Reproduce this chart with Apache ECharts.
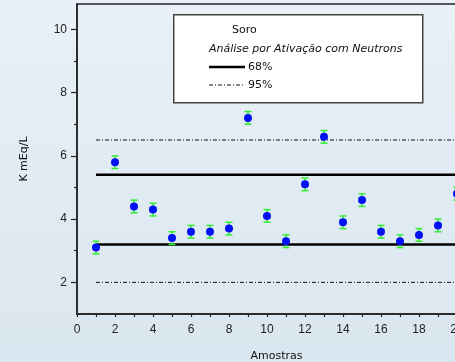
<!DOCTYPE html>
<html>
<head>
<meta charset="utf-8">
<script src="https://cdn.jsdelivr.net/npm/echarts@6/dist/echarts.min.js"></script>
<style>
html,body{margin:0;padding:0;overflow:hidden;width:455px;height:362px;background:#e2ebf3;}
#c{width:480px;height:362px;}
</style>
</head>
<body>
<div id="c"></div>
<script>
// Data
const samples = [1,2,3,4,5,6,7,8,9,10,11,12,13,14,15,16,17,18,19,20];
const values  = [3.1,5.8,4.4,4.3,3.4,3.6,3.6,3.7,7.2,4.1,3.3,5.1,6.6,3.9,4.6,3.6,3.3,3.5,3.8,4.8];
const errors  = [0.2,0.2,0.2,0.2,0.2,0.2,0.2,0.2,0.2,0.2,0.2,0.2,0.2,0.2,0.2,0.2,0.2,0.2,0.2,0.2];
const limits68 = [3.2, 5.4];
const limits95 = [2.0, 6.5];
const lineRange = [1, 21];
const xTickLabels = [0,2,4,6,8,10,12,14,16,18,20];
const yTickLabels = [2,4,6,8,10];
const yMinorTicks = [3,5,7,9];
const legendTitle = 'Soro';
const legendSubtitle = 'Análise por Ativação com Neutrons';
const legendNames = ['68%','95%'];

const chart = echarts.init(document.getElementById('c'));
const AX = '#222';
const FONT = 'DejaVu Sans';

const scatterData = samples.map((s,i)=>[s, values[i]]);
const errData = samples.map((s,i)=>[s, values[i]-errors[i], values[i]+errors[i]]);

function hline(v, name, style){
  return {
    type:'line', name:name, data: lineRange.map(x=>[x, v]),
    symbol:'none', silent:true, z:2,
    lineStyle: style, animation:false
  };
}
const solid = {color:'#000', width:2.5, type:'solid'};
const dashdot = {color:'#111', width:1, type:[4,2,1,2]};

const option = {
  animation:false,
  backgroundColor:{type:'linear',x:0,y:0,x2:0,y2:1,colorStops:[{offset:0,color:'#e9f0f7'},{offset:1,color:'#dae6ef'}]},
  grid:{left:77, top:4, right:4, bottom:48, containLabel:false, outerBoundsMode:'none', show:true, borderColor:AX, borderWidth:1.5, backgroundColor:'transparent'},
  xAxis:{
    type:'value', min:0, max:21, interval:1,
    name:'Amostras', nameLocation:'middle', nameGap:37,
    nameTextStyle:{fontFamily:FONT, fontSize:11, color:'#111'},
    axisLine:{show:true, onZero:false, lineStyle:{color:AX, width:1.5}},
    axisTick:{show:true, length:3, lineStyle:{color:AX, width:1.2}},
    axisLabel:{customValues:xTickLabels, fontFamily:'Liberation Sans', fontSize:12, color:'#222', margin:10},
    splitLine:{show:false}
  },
  yAxis:[{
    type:'value', min:1, max:10.8,
    name:'K mEq/L', nameLocation:'middle', nameGap:47, nameRotate:90,
    nameTextStyle:{fontFamily:FONT, fontSize:11, color:'#111'},
    axisLine:{show:true, onZero:false, lineStyle:{color:AX, width:1.5}},
    axisTick:{show:true, customValues:yTickLabels, length:6, lineStyle:{color:AX, width:1.2}},
    axisLabel:{customValues:yTickLabels, fontFamily:'Liberation Sans', fontSize:12, color:'#222', margin:10},
    splitLine:{show:false}
  },{
    type:'value', min:1, max:10.8, position:'left',
    axisLine:{show:false},
    axisTick:{show:true, customValues:yMinorTicks, length:3, lineStyle:{color:AX, width:1.2}},
    axisLabel:{show:false},
    splitLine:{show:false}
  }],
  series:[
    hline(limits68[0], legendNames[0], solid),
    hline(limits68[1], legendNames[0], solid),
    hline(limits95[0], legendNames[1], dashdot),
    hline(limits95[1], legendNames[1], dashdot),
    {
      type:'custom', z:3, data: errData,
      renderItem:function(params, api){
        const x = api.value(0);
        const lo = api.coord([x, api.value(1)]);
        const hi = api.coord([x, api.value(2)]);
        const w = 3.5;
        const st = {stroke:'#33ee33', lineWidth:1.5, fill:null};
        return {type:'group', children:[
          {type:'line', shape:{x1:lo[0],y1:lo[1],x2:hi[0],y2:hi[1]}, style:st},
          {type:'line', shape:{x1:lo[0]-w,y1:lo[1],x2:lo[0]+w,y2:lo[1]}, style:st},
          {type:'line', shape:{x1:hi[0]-w,y1:hi[1],x2:hi[0]+w,y2:hi[1]}, style:st}
        ]};
      }
    },
    {
      type:'scatter', z:4, data: scatterData, symbol:'circle', symbolSize:8,
      itemStyle:{color:'#0010f5', opacity:1}
    }
  ],
  graphic:[
    {type:'rect', left:173, top:14, z:10, shape:{width:249, height:88}, style:{fill:'#fff', stroke:'#444', lineWidth:1.5}},
    {type:'text', left:232, top:25, z:11, style:{text:legendTitle, font:'11px "DejaVu Sans"', fill:'#111'}},
    {type:'text', left:209, top:44, z:11, style:{text:legendSubtitle, font:'italic 11px "DejaVu Sans"', fill:'#111'}},
    {type:'line', z:11, shape:{x1:209,y1:67,x2:245,y2:67}, style:{stroke:'#000', lineWidth:2.5}},
    {type:'text', left:248, top:62, z:11, style:{text:legendNames[0], font:'11px "DejaVu Sans"', fill:'#111'}},
    {type:'line', z:11, shape:{x1:209,y1:85,x2:245,y2:85}, style:{stroke:'#111', lineWidth:1, lineDash:[4,2,1,2]}},
    {type:'text', left:248, top:80, z:11, style:{text:legendNames[1], font:'11px "DejaVu Sans"', fill:'#111'}}
  ]
};
chart.setOption(option);
</script>
</body>
</html>
